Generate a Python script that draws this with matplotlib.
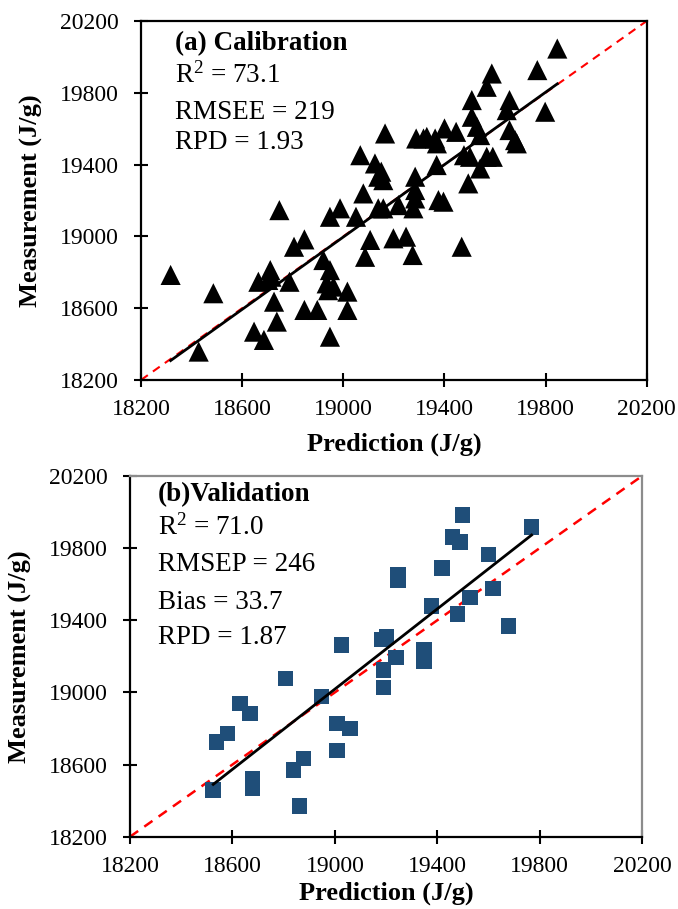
import numpy as np
import matplotlib
matplotlib.use("Agg")
import matplotlib.pyplot as plt

plt.rcParams["font.family"] = ["Liberation Serif", "DejaVu Serif"]

# (a) calibration set: predicted vs measured (J/g)
cal_pred = [18317, 18486, 18428, 18747, 18647, 18686, 18737, 18726, 18664, 18711,
            18703, 18716, 18787, 18805, 18846, 18846, 18897, 18947, 18921, 18947,
            18934, 18961, 18940, 19016, 19016, 18947, 18987, 19050, 19079, 19067,
            19125, 19138, 19158, 19150, 19165, 19106, 19086, 19158, 19138, 19198,
            19248, 19274, 19218, 19284, 19288, 19317, 19284, 19284, 19277, 19330,
            19363, 19370, 19400, 19446, 19508, 19508, 19528, 19541, 19587, 19567,
            19657, 19646, 19657, 19679, 19686, 19767, 19846, 19798, 19468, 19494,
            19477, 19501, 19541, 19567, 19591, 19369, 19376, 19396]
cal_meas = [18785, 18683, 18358, 19146, 18469, 18423, 18525, 18636, 18747, 18812,
            18757, 18775, 18747, 18942, 18983, 18590, 18590, 18441, 18868, 18812,
            18738, 18720, 18700, 18692, 18590, 19109, 19156, 19109, 19239, 19452,
            19406, 19332, 19313, 19360, 19573, 18980, 18886, 19156, 19156, 18989,
            18998, 18896, 19174, 19332, 19545, 19545, 19258, 19211, 19156, 19554,
            19545, 19518, 19601, 19582, 19759, 19666, 19610, 19564, 19907, 19833,
            19759, 19703, 19592, 19536, 19518, 19926, 20046, 19694, 18942, 19295,
            19452, 19443, 19378, 19443, 19443, 19397, 19202, 19193]

# (b) validation set
val_pred = [18525, 18538, 18580, 18629, 18668, 18679, 18679, 18808, 18838, 18877,
            18861, 18948, 19009, 19059, 19009, 19026, 19183, 19202, 19189, 19189,
            19238, 19247, 19247, 19348, 19348, 19378, 19419, 19478, 19460, 19488,
            19499, 19527, 19599, 19618, 19678, 19768]
val_meas = [18459, 18726, 18773, 18939, 18884, 18524, 18468, 19078, 18570, 18634,
            18370, 18976, 18828, 18801, 18677, 19262, 19294, 19308, 19124, 19028,
            19194, 19650, 19622, 19238, 19170, 19480, 19690, 19434, 19862, 19834,
            19982, 19526, 19765, 19576, 19369, 19917]

R2 = r"$\mathregular{R^{2}}$"
cal_stats = [R2 + " = 73.1", "RMSEE = 219", "RPD = 1.93"]
val_stats = [R2 + " = 71.0", "RMSEP = 246", "Bias = 33.7", "RPD = 1.87"]

LIMS = (18200, 20200)
TICKS = np.arange(18200, 20201, 400)


def style_axes(ax, tr_color="black", xpad=9):
    ax.set_xlim(LIMS)
    ax.set_ylim(LIMS)
    ax.set_xticks(TICKS)
    ax.set_yticks(TICKS)
    ax.tick_params(direction="inout", length=10, width=1.5, labelsize=17)
    ax.tick_params(axis="x", pad=9)
    ax.tick_params(axis="y", pad=11)
    for side in ["left", "bottom"]:
        ax.spines[side].set_color("black")
        ax.spines[side].set_linewidth(1.6)
    for side in ["top", "right"]:
        ax.spines[side].set_color(tr_color)
        ax.spines[side].set_linewidth(1.6)
    ax.set_xlabel("Prediction (J/g)", fontsize=19, fontweight="bold", labelpad=xpad)
    ax.set_ylabel("Measurement (J/g)", fontsize=19, fontweight="bold", labelpad=12)


def draw_fit(ax, x, y):
    x = np.asarray(x, dtype=float)
    y = np.asarray(y, dtype=float)
    k, b = np.polyfit(x, y, 1)
    xs = np.array([x.min(), x.max()])
    ax.plot(xs, k * xs + b, color="black", lw=2, zorder=4)


fig = plt.figure(figsize=(6.78, 9.09), dpi=100)

# --- top panel: calibration ---
ax1 = fig.add_axes([0.208, 0.582, 0.746, 0.395])
ax1.plot(LIMS, LIMS, color="red", ls=(0, (4, 3)), lw=1.5, zorder=1)
ax1.scatter(cal_pred, cal_meas, marker="^", s=210, color="black", edgecolors="none", zorder=3)
draw_fit(ax1, cal_pred, cal_meas)
style_axes(ax1)
ax1.text(0.067, 0.938, "(a) Calibration", transform=ax1.transAxes, fontsize=19.5,
         fontweight="bold", va="center", ha="left")
for yy, s in zip([0.849, 0.746, 0.660], cal_stats):
    ax1.text(0.067, yy, s, transform=ax1.transAxes, fontsize=19.5, va="center", ha="left")

# --- bottom panel: validation ---
ax2 = fig.add_axes([0.1917, 0.0795, 0.7556, 0.397])
ax2.plot(LIMS, LIMS, color="red", ls=(0, (4, 3)), lw=1.8, zorder=1)
ax2.scatter(val_pred, val_meas, marker="s", s=125, color="#1F4E79", edgecolors="none", zorder=3)
draw_fit(ax2, val_pred, val_meas)
style_axes(ax2, tr_color="#8C8C8C", xpad=3)
ax2.text(0.055, 0.947, "(b)Validation", transform=ax2.transAxes, fontsize=19.5,
         fontweight="bold", va="center", ha="left")
for yy, s in zip([0.858, 0.753, 0.650, 0.553], val_stats):
    ax2.text(0.055, yy, s, transform=ax2.transAxes, fontsize=19.5, va="center", ha="left")

fig.savefig("out.png", dpi=100)
